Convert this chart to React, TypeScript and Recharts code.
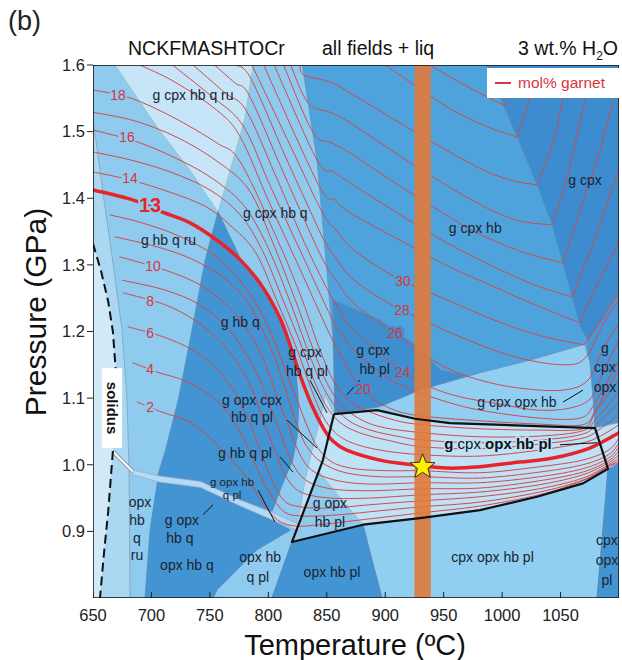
import React from 'react';
import { ComposedChart, Scatter, XAxis, YAxis } from 'recharts';

// ---------- axes ----------
const xTicks = [650, 700, 750, 800, 850, 900, 950, 1000, 1050];
const yTicks = [0.9, 1.0, 1.1, 1.2, 1.3, 1.4, 1.5, 1.6];

// ---------- phase fields (T °C, P GPa) ----------
const fBg = [[650, 0.8], [1100, 0.8], [1100, 1.6], [650, 1.6]];
const fGcpx = [[987, 1.6], [998, 1.552], [1013, 1.492], [1030, 1.42], [1043, 1.36], [1052, 1.303], [1060, 1.252], [1067, 1.207], [1073.5, 1.187], [1100, 1.262], [1100, 1.6]];
const fGcpxOpx = [[1073.5, 1.187], [1100, 1.262], [1100, 1.063], [1079.5, 1.055], [1078, 1.0975], [1075, 1.153]];
const fLeft = [[650, 1.6], [829, 1.6], [841.6, 1.4575], [855.3, 1.187], [857, 1.078], [846.7, 1.007], [833.9, 0.947], [820.2, 0.884], [803.1, 0.8], [650, 0.8]];
const fStrip = [[650, 1.52], [659.4, 1.3975], [668, 1.292], [674.8, 1.202], [679.1, 1.0975], [680.8, 0.992], [681.7, 0.8], [650, 0.8]];
const fSubSolidus = [[650, 1.332], [657, 1.29], [663, 1.245], [667, 1.2], [669.5, 1.14], [669, 1.07], [667, 1.02], [663, 0.93], [659, 0.86], [656, 0.8], [650, 0.8]];
const fTri = [[668.8, 1.6], [704.8, 1.507], [733, 1.442], [756.9, 1.3795], [769.8, 1.4575], [780, 1.52], [786.9, 1.6]];
const fGcpxHbPl = [[855.3, 1.2475], [895.5, 1.217], [925.5, 1.18], [947, 1.142], [972.5, 1.133], [929.8, 1.112], [895.5, 1.087], [857, 1.076]];
const fGcpxOpxHb = [[857, 1.076], [895.5, 1.087], [929.8, 1.112], [981.1, 1.138], [1023.9, 1.157], [1070.9, 1.181], [1075.2, 1.153], [1077.8, 1.0975], [1079.5, 1.055], [955.4, 1.0625], [925.5, 1.069], [893, 1.082]];
const fCpxOpxHbPl = [[881, 0.91], [929.8, 0.92], [981.1, 0.932], [1029.9, 0.952], [1069.2, 0.972], [1090.6, 0.994], [1081.2, 0.8], [897.2, 0.8], [888.7, 0.857]];
const fCpxOpxPl = [[1090.6, 0.994], [1100, 1.003], [1100, 0.8], [1081.2, 0.8], [1086.3, 0.902]];
const fVL = [[848.5, 1.105], [856.2, 1.076], [893, 1.082], [925.5, 1.069], [955.4, 1.0625], [1079.5, 1.055], [1100, 1.063], [1100, 1.003], [1090.6, 0.994], [1069.2, 0.972], [1029.9, 0.952], [981.1, 0.932], [929.8, 0.92], [881, 0.91], [820.2, 0.884], [827.1, 0.932], [831.4, 0.977], [837.4, 1.022], [844.2, 1.067]];
const fGopxHbPl = [[843.3, 0.989], [881, 0.91], [820.2, 0.884], [831.4, 0.935]];
const fGhbq = [[757, 1.38], [776, 1.31], [795, 1.268], [810, 1.223], [819, 1.183], [824, 1.135], [826, 1.09], [825, 1.045], [821, 1.007], [812, 0.97], [803, 0.929], [776, 0.947], [742, 0.975], [707, 0.983], [705, 0.982], [712, 1.022], [723, 1.098], [733, 1.187], [746, 1.308]];
const fOpxHbq = [[705, 0.974], [742, 0.966], [776, 0.938], [801, 0.919], [819, 0.902], [790, 0.872], [756, 0.812], [753, 0.8], [694.5, 0.8], [698.8, 0.902]];
const fBand = [[684, 0.992], [707, 0.983], [742, 0.975], [776, 0.947], [803, 0.929], [827, 0.91], [827, 0.9], [801, 0.919], [776, 0.938], [742, 0.966], [707, 0.974], [684, 0.985]];
const fOpxHbPl = [[803.1, 0.8], [820.2, 0.884], [881, 0.91], [888.7, 0.857], [897.2, 0.8]];
const stripe = [[925, 0.8], [939, 0.8], [939, 1.6], [925, 1.6]];
const boxOutline = [[856.2, 1.076], [893, 1.082], [925.5, 1.069], [955.4, 1.0625], [1079.5, 1.055], [1090.6, 0.994], [1069.2, 0.972], [1029.9, 0.952], [981.1, 0.932], [929.8, 0.92], [881, 0.91], [820.2, 0.884], [833.9, 0.947], [846.7, 1.007], [856.2, 1.076]];
const solidus = [[650, 1.332], [657, 1.29], [663, 1.245], [667, 1.2], [669.5, 1.14], [669, 1.07], [667, 1.02], [663, 0.93], [659, 0.86], [656, 0.8]];
const whiteSeam = [[667, 1.02], [684, 0.99]];

// ---------- garnet isopleths (mol%) ----------
const iso2 = [[688, 1.094], [709, 1.079], [733, 1.064], [752, 1.037], [767, 1.01], [783, 0.977], [795, 0.943], [808, 0.917], [823, 0.908], [844, 0.91], [878, 0.917], [932, 0.928], [981, 0.938], [1032, 0.955], [1069, 0.976], [1091, 0.997], [1100, 1.003]];
const iso4 = [[684, 1.153], [705, 1.139], [727, 1.127], [750, 1.105], [765.5, 1.078], [778, 1.042], [789, 1.0], [800.6, 0.959], [814, 0.929], [831, 0.923], [861, 0.925], [895.5, 0.931], [932, 0.937], [981, 0.944], [1032, 0.959], [1069, 0.977], [1091, 0.998], [1100, 1.006]];
const iso6 = [[680, 1.207], [710, 1.192], [735, 1.1725], [754, 1.147], [770, 1.112], [782, 1.072], [792, 1.027], [802, 0.982], [813, 0.947], [827, 0.937], [853, 0.935], [887, 0.94], [932, 0.946], [981, 0.952], [1032, 0.964], [1069, 0.98], [1091, 1.0], [1100, 1.01]];
const iso8 = [[676, 1.258], [712, 1.24], [739, 1.2145], [760, 1.183], [776, 1.147], [788, 1.105], [797, 1.06], [807, 1.015], [817, 0.977], [829, 0.958], [853, 0.95], [887, 0.95], [932, 0.955], [981, 0.959], [1032, 0.97], [1069, 0.985], [1091, 1.003], [1100, 1.015]];
const iso9 = [[675, 1.277], [712, 1.262], [741.5, 1.24], [764, 1.207], [780, 1.169], [792, 1.13], [801, 1.09], [811, 1.045], [820, 1.004], [832, 0.977], [853, 0.964], [887, 0.961], [932, 0.964], [981, 0.965], [1032, 0.976], [1069, 0.989], [1091, 1.006], [1100, 1.021]];
const iso10 = [[673, 1.312], [712, 1.292], [741.5, 1.27], [765.5, 1.238], [784, 1.198], [797, 1.153], [807, 1.105], [817, 1.06], [826, 1.019], [837, 0.992], [857, 0.977], [887, 0.971], [932, 0.973], [981, 0.973], [1032, 0.982], [1069, 0.994], [1091, 1.01], [1100, 1.027]];
const iso11 = [[669, 1.342], [703, 1.328], [733, 1.31], [760, 1.283], [781, 1.2475], [795, 1.2025], [807, 1.154], [816, 1.105], [824.5, 1.06], [833, 1.027], [846, 1.003], [866, 0.988], [895.5, 0.982], [932, 0.982], [981, 0.98], [1032, 0.989], [1069, 1.0], [1091, 1.015], [1100, 1.033]];
const iso12 = [[664.5, 1.375], [690, 1.364], [720, 1.346], [750, 1.319], [771.5, 1.285], [789, 1.244], [803, 1.195], [814, 1.145], [824.5, 1.0975], [834, 1.055], [842.5, 1.025], [854.5, 1.004], [874, 0.994], [904, 0.991], [932, 0.991], [981, 0.988], [1032, 0.997], [1069, 1.007], [1091, 1.022], [1100, 1.04]];
const iso13 = [[650, 1.4125], [684, 1.3975], [709, 1.3795], [733, 1.363], [756, 1.337], [776, 1.3075], [795, 1.267], [810, 1.22], [818.5, 1.18], [827, 1.135], [837, 1.09], [847, 1.055], [855, 1.036], [867, 1.022], [895.5, 1.007], [924, 1.0], [953, 0.995], [981, 0.997], [1015, 1.004], [1043.5, 1.01], [1075, 1.025], [1100, 1.048]];
const iso14 = [[650, 1.4395], [682, 1.4275], [716, 1.409], [746, 1.388], [767, 1.36], [789, 1.319], [807, 1.2475], [823, 1.18], [834, 1.127], [844, 1.082], [855, 1.052], [870, 1.034], [895.5, 1.022], [932, 1.015], [981, 1.013], [1032, 1.022], [1069, 1.033], [1084, 1.043], [1100, 1.06]];
const iso15 = [[650, 1.4695], [682, 1.4575], [716, 1.4395], [750, 1.4125], [776, 1.375], [794.6, 1.3225], [812.5, 1.2475], [828, 1.18], [839, 1.127], [849, 1.09], [861, 1.064], [878, 1.048], [904, 1.036], [932, 1.027], [981, 1.024], [1032, 1.031], [1069, 1.04], [1084, 1.054], [1100, 1.076]];
const iso16 = [[650, 1.5025], [688, 1.4845], [724, 1.4575], [754, 1.4275], [780, 1.387], [800, 1.325], [818, 1.2475], [832, 1.18], [844, 1.127], [855, 1.093], [868, 1.067], [887, 1.052], [913, 1.042], [932, 1.037], [981, 1.033], [1032, 1.037], [1069, 1.046], [1082, 1.063], [1100, 1.093]];
const iso17 = [[650, 1.529], [686, 1.516], [723, 1.4905], [757, 1.4545], [783.5, 1.4125], [803, 1.337], [823, 1.2475], [837, 1.18], [849, 1.127], [861, 1.093], [875, 1.072], [895.5, 1.057], [932, 1.048], [981, 1.042], [1032, 1.043], [1069, 1.051], [1081, 1.07], [1100, 1.109]];
const iso18 = [[650, 1.5625], [682, 1.5505], [718, 1.522], [756, 1.483], [776, 1.4545], [808, 1.337], [829, 1.2475], [842.5, 1.18], [854.5, 1.13], [867, 1.1], [883, 1.082], [908, 1.067], [932, 1.06], [981, 1.054], [1032, 1.052], [1069, 1.054], [1079.5, 1.078], [1090.6, 1.105], [1100, 1.127]];
const iso20 = [[690, 1.6], [720, 1.5745], [756, 1.532], [776, 1.492], [801, 1.393], [827, 1.294], [844, 1.228], [855, 1.187], [864, 1.157], [874, 1.127], [889, 1.1], [908, 1.082], [932, 1.073], [981, 1.066], [1032, 1.061], [1069, 1.06], [1080, 1.082], [1092, 1.12], [1100, 1.142]];
const iso22 = [[718, 1.6], [750, 1.555], [778, 1.51], [801, 1.421], [827, 1.3225], [853.6, 1.222], [862, 1.198], [871.6, 1.175], [891, 1.145], [912.6, 1.12], [947, 1.0975], [981, 1.082], [1032, 1.07], [1066.6, 1.07], [1078.6, 1.09], [1090.6, 1.127], [1100, 1.157]];
const iso24 = [[735.6, 1.6], [763, 1.558], [781, 1.532], [806, 1.435], [831, 1.333], [852, 1.258], [861, 1.2325], [870, 1.207], [891, 1.175], [915, 1.139], [938, 1.117], [964, 1.102], [998, 1.091], [1030, 1.082], [1058, 1.085], [1076, 1.1], [1086, 1.138], [1100, 1.187]];
const iso26 = [[754, 1.6], [771.5, 1.573], [783.5, 1.555], [810, 1.45], [835.6, 1.349], [849, 1.3], [859.6, 1.273], [870, 1.2475], [889, 1.22], [908, 1.198], [930, 1.169], [953, 1.145], [981, 1.127], [1015, 1.115], [1052, 1.112], [1073.5, 1.127], [1086, 1.1725], [1100, 1.213]];
const iso28 = [[772, 1.6], [785, 1.58], [814, 1.465], [835.6, 1.382], [847.6, 1.337], [858.7, 1.3075], [870, 1.282], [891, 1.255], [914, 1.2325], [947, 1.205], [981, 1.18], [1015, 1.16], [1052, 1.15], [1071, 1.16], [1086, 1.21], [1100, 1.2475]];
const iso30 = [[786, 1.6], [818.5, 1.48], [846, 1.3795], [858, 1.352], [870, 1.327], [891, 1.3], [915, 1.276], [947, 1.252], [972.5, 1.2325], [1007, 1.208], [1041, 1.19], [1070, 1.18, 1], [1084, 1.2145], [1100, 1.259]];
const iso32 = [[796, 1.6], [843, 1.42], [857, 1.3975], [870, 1.378], [912.6, 1.337], [955, 1.297], [989.6, 1.27], [1018, 1.2475], [1045, 1.228], [1066.6, 1.213, 1], [1081, 1.27], [1092, 1.3075], [1100, 1.337]];
const iso34 = [[805, 1.6], [841.6, 1.4575], [856, 1.4395], [870, 1.423], [904, 1.385], [944, 1.342], [972.5, 1.315], [1004, 1.288], [1032, 1.267], [1060, 1.252, 1], [1078, 1.333], [1095, 1.417], [1100, 1.4425]];
const iso36 = [[813, 1.6], [838, 1.4995], [854.5, 1.483], [870, 1.468], [895.5, 1.438], [927, 1.402], [955, 1.372], [978.5, 1.348], [1018, 1.319], [1052, 1.303, 1], [1066.6, 1.382], [1081, 1.4575], [1092, 1.525], [1096, 1.5475]];
const iso38 = [[819, 1.6], [834, 1.543], [852.7, 1.529], [870, 1.513], [927, 1.447], [978.5, 1.393], [1013, 1.367], [1043, 1.36, 1], [1055.5, 1.432], [1069, 1.532], [1072.6, 1.555]];
const iso40 = [[827, 1.6], [830.5, 1.585], [852.7, 1.5745], [870, 1.558], [927, 1.498], [978.5, 1.447], [1007, 1.4275], [1030, 1.42, 1], [1043.5, 1.483], [1052, 1.5475], [1055.5, 1.57]];
const iso42 = [[900, 1.6], [955, 1.535], [990, 1.5055], [1013, 1.492, 1], [1021, 1.535], [1026, 1.5625]];
const iso44 = [[938, 1.6], [972.5, 1.5655], [1002.5, 1.5385, 1], [1008.5, 1.57], [1012, 1.5925]];

// ---------- labels ----------
const isoLabels = [
  { x: 671.4, y: 1.555, t: '18', g: 'L' }, { x: 679.1, y: 1.492, t: '16', g: 'L' }, { x: 681.7, y: 1.43, t: '14', g: 'L' },
  { x: 701.4, y: 1.298, t: '10', g: 'L' }, { x: 698.8, y: 1.246, t: '8', g: 'L' }, { x: 698.8, y: 1.198, t: '6', g: 'L' },
  { x: 698.8, y: 1.144, t: '4', g: 'L' }, { x: 698.8, y: 1.087, t: '2', g: 'L' },
  { x: 915.2, y: 1.276, t: '30', g: 'M' }, { x: 914.4, y: 1.2325, t: '28', g: 'M' }, { x: 908.4, y: 1.198, t: '26', g: 'D' },
  { x: 915, y: 1.139, t: '24', g: 'D' }, { x: 881, y: 1.114, t: '20', g: 'D' },
];
const boldIsoLabel = [{ x: 698.8, y: 1.39, t: '13' }];
const fieldLabels = [
  { x: 735.6, y: 1.555, t: 'g cpx hb q ru' }, { x: 806, y: 1.378, t: 'g cpx hb q' }, { x: 714.6, y: 1.337, t: 'g hb q ru' },
  { x: 977, y: 1.355, t: 'g cpx hb' }, { x: 1071, y: 1.4275, t: 'g cpx' }, { x: 776, y: 1.2145, t: 'g hb q' },
  { x: 831.4, y: 1.169, t: 'g cpx' }, { x: 833, y: 1.141, t: 'hb q pl' }, { x: 889.6, y: 1.1725, t: 'g cpx' }, { x: 891, y: 1.144, t: 'hb pl' },
  { x: 786, y: 1.0975, t: 'g opx cpx' }, { x: 786, y: 1.072, t: 'hb q pl' }, { x: 780, y: 1.018, t: 'g hb q pl' },
  { x: 726, y: 0.917, t: 'g opx' }, { x: 724.4, y: 0.89, t: 'hb q' },
  { x: 690.2, y: 0.944, t: 'opx' }, { x: 687.6, y: 0.917, t: 'hb' }, { x: 687.6, y: 0.89, t: 'q' }, { x: 687.6, y: 0.865, t: 'ru' },
  { x: 730.4, y: 0.85, t: 'opx hb q' }, { x: 793, y: 0.862, t: 'opx hb' }, { x: 791, y: 0.832, t: 'q pl' },
  { x: 854.5, y: 0.839, t: 'opx hb pl' }, { x: 852.7, y: 0.943, t: 'g opx' }, { x: 852.7, y: 0.914, t: 'hb pl' },
  { x: 991.8, y: 0.862, t: 'cpx opx hb pl' }, { x: 1089.7, y: 0.887, t: 'cpx' }, { x: 1089.7, y: 0.857, t: 'opx' }, { x: 1089.7, y: 0.827, t: 'pl' },
  { x: 1012.7, y: 1.094, t: 'g cpx opx hb' }, { x: 1088, y: 1.175, t: 'g' }, { x: 1088, y: 1.147, t: 'cpx' }, { x: 1088, y: 1.117, t: 'opx' },
];
const smallLabels = [{ x: 769, y: 0.974, t: 'g opx hb' }, { x: 769, y: 0.955, t: 'q pl' }];
const mixedLabel = [{ x: 996.5, y: 1.033, t: '*g| cpx |*opx hb pl' }];
const solidusLabel = [{ x: 666.3, y: 1.085, t: 'solidus' }];
const pointers = [
  [[835.6, 1.127], [850.2, 1.078]], [[878.4, 1.127], [867.3, 1.105]], [[816, 1.067], [841.6, 1.025]],
  [[810, 1.012], [821.1, 0.989]], [[791.2, 0.962], [805.7, 0.914]], [[744.1, 0.925], [752.7, 0.94]],
  [[1052.1, 1.094], [1069.2, 1.112]], [[1049.5, 1.03], [1081.2, 1.033]],
];
const starPoint = [{ x: 932, y: 0.997 }];
const frame = [[650, 0.8], [1100, 0.8], [1100, 1.6], [650, 1.6]];

// ---------- helpers ----------
const toXY = (a: number[][]) => a.map((p) => ({ x: p[0], y: p[1] }));
const noShape = () => <g />;
const FONT = "'Liberation Sans', Arial, Helvetica, sans-serif";

function polyRenderer(fill: string, stroke: string, sw: number, closed = true, dash?: string) {
  return (props: any) => {
    const pts = (props.points || []).filter((p: any) => p && p.x != null && p.y != null);
    if (!pts.length) return <g />;
    const d = pts.map((p: any, i: number) => `${i ? 'L' : 'M'}${p.x},${p.y}`).join(' ') + (closed ? ' Z' : '');
    return <path d={d} fill={fill} stroke={stroke} strokeWidth={sw} strokeDasharray={dash} strokeLinejoin="round" />;
  };
}

function smoothRenderer(src: number[][], color: string, sw: number) {
  return (props: any) => {
    const pts = (props.points || []).filter((p: any) => p && p.x != null && p.y != null);
    const n = pts.length;
    if (n < 2) return <g />;
    const k = src.map((p) => (p[2] ? 1 : 0));
    let d = `M${pts[0].x},${pts[0].y}`;
    for (let i = 0; i < n - 1; i++) {
      const p1 = pts[i];
      const p2 = pts[i + 1];
      const p0 = i > 0 && !k[i] ? pts[i - 1] : p1;
      const p3 = i + 2 < n && !k[i + 1] ? pts[i + 2] : p2;
      const c1x = p1.x + (p2.x - p0.x) / 6;
      const c1y = p1.y + (p2.y - p0.y) / 6;
      const c2x = p2.x - (p3.x - p1.x) / 6;
      const c2y = p2.y - (p3.y - p1.y) / 6;
      d += ` C${c1x},${c1y} ${c2x},${c2y} ${p2.x},${p2.y}`;
    }
    return <path d={d} fill="none" stroke={color} strokeWidth={sw} strokeLinecap="round" strokeLinejoin="round" />;
  };
}

const haloColor: Record<string, string> = { L: '#8fcbef', M: '#4ea3dc', D: '#3f8fd0' };

function starPath(cx: number, cy: number, R: number, r: number) {
  let d = '';
  for (let i = 0; i < 10; i++) {
    const a = -Math.PI / 2 + (i * Math.PI) / 5;
    const rad = i % 2 === 0 ? R : r;
    d += `${i ? 'L' : 'M'}${cx + rad * Math.cos(a)},${cy + rad * Math.sin(a)}`;
  }
  return d + 'Z';
}

export default function App() {
  const fieldLayers: [number[][], string, string][] = [
    [fBg, '#4ea3dc', 'none'],
    [fGcpx, '#3c8ccf', '#5d86ad'],
    [fGcpxOpx, '#4698d6', '#5d86ad'],
    [fLeft, '#8fcbef', '#6a8fb0'],
    [fStrip, '#aad8f3', '#7f98b0'],
    [fSubSolidus, '#d2eaf8', 'none'],
    [fTri, '#c6e5f8', '#8dc6a6'],
    [fGcpxHbPl, '#3f8fd0', '#5d86ad'],
    [fGcpxOpxHb, '#90cff1', '#6a8fb0'],
    [fCpxOpxHbPl, '#90cff1', '#6a8fb0'],
    [fCpxOpxPl, '#4394d3', '#5d86ad'],
    [fVL, '#bfe2f6', '#8ab0cc'],
    [fGopxHbPl, '#8fcbef', '#8dc6a6'],
    [fGhbq, '#4394d3', '#5d86ad'],
    [fOpxHbq, '#4394d3', '#5d86ad'],
    [fBand, '#b2dbf4', '#a39fd2'],
    [fOpxHbPl, '#4394d3', '#5d86ad'],
  ];
  const thinLines = [iso2, iso4, iso6, iso8, iso9, iso10, iso11, iso12, iso14, iso15, iso16, iso17, iso18, iso20, iso22, iso24, iso26, iso28, iso30, iso32, iso34, iso36, iso38, iso40, iso42, iso44];

  const textShape = (size: number, weight: string, color: string) => (p: any) => {
    const t = p.payload?.t ?? p.t;
    return (
      <text x={p.cx} y={p.cy} fontSize={size} fontWeight={weight} fill={color} fontFamily={FONT} textAnchor="middle" dominantBaseline="central">
        {t}
      </text>
    );
  };

  return (
    <div style={{ position: 'absolute', left: 0, top: 0, width: 622, height: 660, background: '#fff', fontFamily: FONT }}>
      <ComposedChart width={622} height={660} margin={{ top: 65, right: 3, bottom: 0, left: 0 }}>
        <XAxis type="number" dataKey="x" domain={[650, 1100]} ticks={xTicks} allowDataOverflow height={62} axisLine={false} tickLine={false} tick={{ fontSize: 16.5, fill: '#222', fontFamily: FONT }} tickMargin={5} interval={0} />
        <YAxis type="number" dataKey="y" domain={[0.8, 1.6]} ticks={yTicks} allowDataOverflow width={93} axisLine={false} tickSize={6} tickLine={{ stroke: '#222' }} tick={{ fontSize: 16.5, fill: '#222', fontFamily: FONT }} tickFormatter={(v: number) => v.toFixed(1)} interval={0} />

        {fieldLayers.map(([pts, fill, stroke], i) => (
          <Scatter key={'f' + i} data={toXY(pts)} shape={noShape} line={polyRenderer(fill, stroke, stroke === 'none' ? 0 : 0.7)} isAnimationActive={false} />
        ))}

        <Scatter data={toXY(whiteSeam)} shape={noShape} line={polyRenderer('none', '#8d9aa8', 4, false)} isAnimationActive={false} />
        <Scatter data={toXY(whiteSeam)} shape={noShape} line={polyRenderer('none', '#ffffff', 2, false)} isAnimationActive={false} />

        {thinLines.map((ln, i) => (
          <Scatter key={'l' + i} data={toXY(ln)} shape={noShape} line={smoothRenderer(ln, '#d2494b', 1)} isAnimationActive={false} />
        ))}

        <Scatter data={toXY(stripe)} shape={noShape} line={polyRenderer('rgba(224,122,58,0.9)', 'none', 0)} isAnimationActive={false} />

        <Scatter data={toXY(iso13)} shape={noShape} line={smoothRenderer(iso13, '#e8232a', 3.5)} isAnimationActive={false} />

        <Scatter data={toXY(boxOutline)} shape={noShape} line={polyRenderer('none', '#111', 2.2, false)} isAnimationActive={false} />
        <Scatter data={toXY(solidus)} shape={noShape} line={polyRenderer('none', '#111', 2, false, '9 5')} isAnimationActive={false} />

        {pointers.map((pp, i) => (
          <Scatter key={'p' + i} data={toXY(pp)} shape={noShape} line={polyRenderer('none', '#111', 1, false)} isAnimationActive={false} />
        ))}

        <Scatter data={isoLabels} isAnimationActive={false} shape={(p: any) => {
          const d = p.payload || p;
          return (
            <text x={p.cx} y={p.cy} fontSize={14} fill="#d8353a" fontFamily={FONT} textAnchor="middle" dominantBaseline="central" stroke={haloColor[d.g]} strokeWidth={4} paintOrder="stroke">
              {d.t}
            </text>
          );
        }} />
        <Scatter data={boldIsoLabel} isAnimationActive={false} shape={(p: any) => (
          <text x={p.cx} y={p.cy} fontSize={20} fontWeight="bold" fill="#e8232a" fontFamily={FONT} textAnchor="middle" dominantBaseline="central" stroke="#8fcbef" strokeWidth={4} paintOrder="stroke">
            {(p.payload || p).t}
          </text>
        )} />

        <Scatter data={fieldLabels} isAnimationActive={false} shape={textShape(14, 'normal', '#1b2430')} />
        <Scatter data={smallLabels} isAnimationActive={false} shape={textShape(11.5, 'normal', '#1b2430')} />
        <Scatter data={mixedLabel} isAnimationActive={false} shape={(p: any) => {
          const segs = String((p.payload || p).t).split('|');
          return (
            <text x={p.cx} y={p.cy} fontSize={15} fill="#111" fontFamily={FONT} textAnchor="middle" dominantBaseline="central" stroke="#bfe2f6" strokeWidth={3} paintOrder="stroke">
              {segs.map((s, i) => (
                <tspan key={i} fontWeight={s.startsWith('*') ? 'bold' : 'normal'}>{s.replace('*', '')}</tspan>
              ))}
            </text>
          );
        }} />
        <Scatter data={solidusLabel} isAnimationActive={false} shape={(p: any) => (
          <g>
            <rect x={p.cx - 10} y={p.cy - 40} width={20} height={80} fill="#ffffff" />
            <text x={p.cx} y={p.cy} fontSize={15} fontWeight="bold" fill="#111" fontFamily={FONT} textAnchor="middle" dominantBaseline="central" transform={`rotate(90 ${p.cx} ${p.cy})`}>
              {(p.payload || p).t}
            </text>
          </g>
        )} />

        <Scatter data={starPoint} isAnimationActive={false} shape={(p: any) => (
          <path d={starPath(p.cx, p.cy, 13, 5.5)} fill="#fff200" stroke="#333" strokeWidth={1} strokeLinejoin="round" />
        )} />

        <Scatter data={xTicks.map((t) => ({ x: t, y: 0.8 }))} isAnimationActive={false} shape={(p: any) => (
          <line x1={p.cx} x2={p.cx} y1={p.cy} y2={p.cy - 6} stroke="#222" strokeWidth={1} />
        )} />

        <Scatter data={toXY(frame)} shape={noShape} line={polyRenderer('none', '#111', 1.5)} isAnimationActive={false} />
      </ComposedChart>

      <div style={{ position: 'absolute', left: 8, top: 5, fontSize: 27, lineHeight: '32px', color: '#222' }}>(b)</div>
      <div style={{ position: 'absolute', left: 128, top: 37, fontSize: 19.5, lineHeight: '22px', color: '#111' }}>NCKFMASHTOCr</div>
      <div style={{ position: 'absolute', left: 322, top: 37, fontSize: 19.5, lineHeight: '22px', color: '#111' }}>all fields + liq</div>
      <div style={{ position: 'absolute', right: 4, top: 37, fontSize: 19.5, lineHeight: '22px', color: '#111', whiteSpace: 'nowrap' }}>
        3 wt.% H<sub style={{ fontSize: 12, lineHeight: 0 }}>2</sub>O
      </div>
      <div style={{ position: 'absolute', left: 487, top: 68, width: 132, height: 30, background: '#fff', display: 'flex', alignItems: 'center' }}>
        <div style={{ width: 16, height: 1.5, background: '#d8353a', marginLeft: 8, marginRight: 7 }} />
        <span style={{ color: '#d8353a', fontSize: 15.5 }}>mol% garnet</span>
      </div>
      <div style={{ position: 'absolute', left: 0, width: 710, top: 630, textAlign: 'center', fontSize: 29, lineHeight: '30px', color: '#111' }}>Temperature (ºC)</div>
      <div style={{ position: 'absolute', left: 36, top: 312, transform: 'translate(-50%, -50%) rotate(-90deg)', fontSize: 30, lineHeight: '32px', color: '#111', whiteSpace: 'nowrap' }}>Pressure (GPa)</div>
    </div>
  );
}
